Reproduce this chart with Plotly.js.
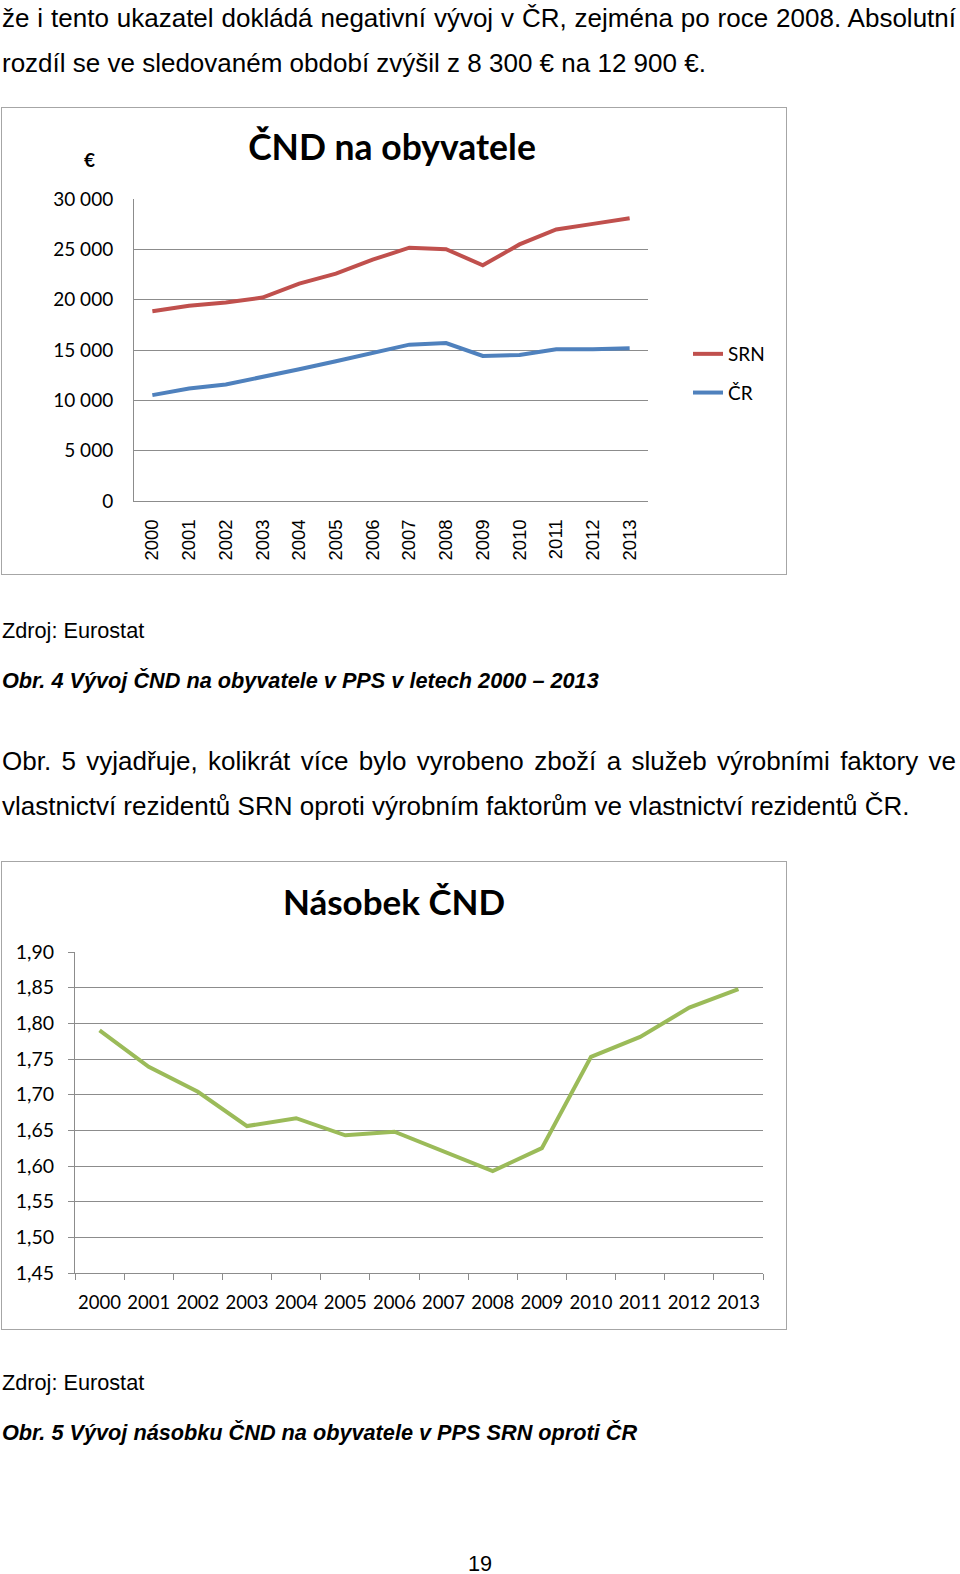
<!DOCTYPE html>
<html>
<head>
<meta charset="utf-8">
<script src="https://cdn.plot.ly/plotly-3.0.1.min.js"></script>
<style>
  html, body { margin:0; padding:0; background:#fff; }
  body { width:960px; height:1574px; position:relative; overflow:hidden; font-family:"Liberation Sans", Arial, sans-serif; color:#000; }
  .t { position:absolute; white-space:nowrap; }
  .body { font-size:26px; line-height:45px; }
  .just { text-align:justify; text-align-last:justify; white-space:normal; }
  .small { font-size:21.7px; line-height:26px; }
  .cap { font-size:21.7px; line-height:26px; font-weight:bold; font-style:italic; }
  .chart { position:absolute; }
  .frame { position:absolute; border:1.5px solid #a6a6a6; box-sizing:border-box; pointer-events:none; }
</style>
</head>
<body>
<div class="t body just" style="left:2px; top:-4.5px; width:954px;">že i tento ukazatel dokládá negativní vývoj v ČR, zejména po roce 2008. Absolutní</div>
<div class="t body" style="left:2px; top:41px;">rozdíl se ve sledovaném období zvýšil z 8 300 € na 12 900 €.</div>

<div id="c1" class="chart" style="left:2px; top:108px; width:784px; height:466px;"></div>
<div class="frame" style="left:1px; top:107px; width:786px; height:468px;"></div>

<div class="t small" style="left:2px; top:618px;">Zdroj: Eurostat</div>
<div class="t cap" style="left:2px; top:668px;">Obr. 4 Vývoj ČND na obyvatele v PPS v letech 2000 – 2013</div>

<div class="t body just" style="left:2px; top:739px; width:954px;">Obr. 5 vyjadřuje, kolikrát více bylo vyrobeno zboží a služeb výrobními faktory ve</div>
<div class="t body" style="left:2px; top:784px;">vlastnictví rezidentů SRN oproti výrobním faktorům ve vlastnictví rezidentů ČR.</div>

<div id="c2" class="chart" style="left:2px; top:862px; width:784px; height:467px;"></div>
<div class="frame" style="left:1px; top:861px; width:786px; height:469px;"></div>

<div class="t small" style="left:2px; top:1370px;">Zdroj: Eurostat</div>
<div class="t cap" style="left:2px; top:1420px;">Obr. 5 Vývoj násobku ČND na obyvatele v PPS SRN oproti ČR</div>

<div class="t small" style="left:468px; top:1551px;">19</div>

<script>
// ---- data ----
const years = ["2000","2001","2002","2003","2004","2005","2006","2007","2008","2009","2010","2011","2012","2013"];
const srn = [18850, 19390, 19720, 20210, 21600, 22580, 23970, 25160, 25020, 23410, 25490, 26970, 27530, 28090];
const cr  = [10520, 11180, 11570, 12300, 13090, 13880, 14670, 15530, 15690, 14410, 14510, 15070, 15070, 15170];
const nasobek = [1.790, 1.739, 1.704, 1.656, 1.667, 1.643, 1.648, 1.620, 1.593, 1.625, 1.753, 1.781, 1.822, 1.848];
const yTicks1 = [0, 5000, 10000, 15000, 20000, 25000, 30000];
const yTicks2 = [1.45, 1.50, 1.55, 1.60, 1.65, 1.70, 1.75, 1.80, 1.85, 1.90];

const GRID = '#8c8c8c';
const CAL = 'Lato, "Open Sans", sans-serif';

// ---- chart 1 ----
Plotly.newPlot('c1', [
  {x: years, y: srn, name: 'SRN', type: 'scatter', mode: 'lines', legendgroup: 'a',
   line: {color: '#C0504D', width: 4}},
  {x: years, y: cr, name: 'ČR', type: 'scatter', mode: 'lines', legendgroup: 'b',
   line: {color: '#4F81BD', width: 4}}
], {
  width: 784, height: 466,
  margin: {l: 132, r: 138, t: 91, b: 73},
  paper_bgcolor: '#fff', plot_bgcolor: '#fff',
  separators: ', ',
  title: {text: 'ČND na obyvatele', font: {family: CAL, size: 35.5, weight: 700, color: '#000'},
          x: 390/784, xref: 'container', xanchor: 'center', y: 1 - 39.6/466, yref: 'container', yanchor: 'middle'},
  xaxis: {type: 'category', range: [-0.5, 13.5], tickangle: -90, showgrid: false, showline: true,
          linecolor: GRID, linewidth: 1, ticks: '', ticklabelstandoff: 10,
          tickfont: {family: '"Liberation Sans", Arial, sans-serif', size: 18.5, color: '#000'}},
  yaxis: {range: [0, 30000], tickvals: yTicks1, tickformat: ',d', showgrid: true, gridcolor: GRID, gridwidth: 1,
          showline: true, linecolor: GRID, linewidth: 1, zeroline: false, ticks: '', ticklabelstandoff: 16,
          tickfont: {family: CAL, size: 19, color: '#000'}},
  showlegend: true,
  legend: {x: 686/784, xref: 'container', xanchor: 'left', y: 1 - 227/466, yref: 'container', yanchor: 'top',
           tracegroupgap: 11, bgcolor: 'rgba(0,0,0,0)', font: {family: CAL, size: 19, color: '#000'}},
  annotations: [{text: '<b>€</b>', xref: 'paper', yref: 'paper', x: (87-132)/514, y: (393-52)/302,
                 xanchor: 'center', yanchor: 'middle', showarrow: false, font: {family: CAL, size: 19, color: '#000'}}]
}, {staticPlot: true});

// ---- chart 2 ----
Plotly.newPlot('c2', [
  {x: years, y: nasobek, name: 'Násobek ČND', type: 'scatter', mode: 'lines',
   line: {color: '#9BBB59', width: 4}}
], {
  width: 784, height: 467,
  margin: {l: 73, r: 23, t: 90, b: 56},
  paper_bgcolor: '#fff', plot_bgcolor: '#fff',
  separators: ', ',
  showlegend: false,
  title: {text: 'Násobek ČND', font: {family: CAL, size: 35, weight: 700, color: '#000'},
          x: 392/784, xref: 'container', xanchor: 'center', y: 1 - 41/467, yref: 'container', yanchor: 'middle'},
  xaxis: {type: 'category', range: [-0.5, 13.5], tickson: 'boundaries', ticks: 'outside', ticklen: 6,
          tickcolor: GRID, showgrid: false, showline: true, linecolor: GRID, linewidth: 1, ticklabelstandoff: 13,
          tickangle: 0, tickfont: {family: CAL, size: 18.5, color: '#000'}},
  yaxis: {range: [1.45, 1.90], tickvals: yTicks2, tickformat: '.2f', showgrid: true, gridcolor: GRID, gridwidth: 1,
          showline: true, linecolor: GRID, linewidth: 1, zeroline: false, ticks: 'outside', ticklen: 6,
          tickcolor: GRID, ticklabelstandoff: 10,
          tickfont: {family: CAL, size: 19.5, color: '#000'}}
}, {staticPlot: true});
</script>
</body>
</html>
